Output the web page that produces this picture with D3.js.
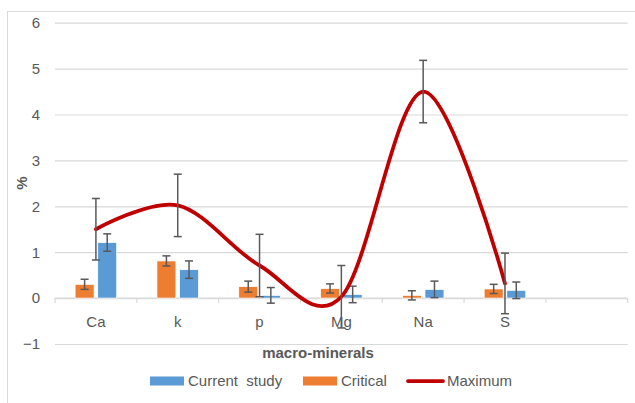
<!DOCTYPE html>
<html>
<head>
<meta charset="utf-8">
<script src="https://cdn.jsdelivr.net/npm/d3@7"></script>
<style>
    body { margin: 0; background: #fff; }
    text { font-family: "Liberation Sans", Arial, sans-serif; }
</style>
</head>
<body>
<svg id="chart" width="635" height="403"></svg>
<script>
// Data
// --------------------
var categories = ["Ca", "k", "p", "Mg", "Na", "S", ""];
var minerals = ["Ca", "k", "p", "Mg", "Na", "S"];
var critical = [0.30, 0.81, 0.25, 0.21, 0.06, 0.20];
var criticalErr = [0.11, 0.11, 0.12, 0.10, 0.10, 0.10];
var current = [1.21, 0.62, 0.06, 0.08, 0.19, 0.17];
var currentErr = [0.19, 0.19, 0.17, 0.18, 0.18, 0.18];
var maximum = [1.50, 2.02, 0.71, 0.03, 4.50, 0.32];
var maximumErr = [0.67, 0.68, 0.68, 0.68, 0.68, 0.66];
var yTicks = [-1, 0, 1, 2, 3, 4, 5, 6];

var colors = {
    critical: "#ED7D31",
    current: "#5B9BD5",
    maximum: "#C00000",
    err: "#595959",
    grid: "#D9D9D9",
    text: "#595959"
};
var fontSize = 15;

var svg = d3.select("#chart");

// Outer chart border
svg.append("rect")
    .attr("x", 7.5)
    .attr("y", 11.5)
    .attr("width", 640)
    .attr("height", 400)
    .style("fill", "none")
    .style("stroke", colors.grid);

// Scales
// --------------------
var plot = { left: 55, right: 627.7, top: 22.7, bottom: 344 };

var x = d3.scaleBand()
    .domain(categories)
    .range([plot.left, plot.right])
    .padding(0);

var y = d3.scaleLinear()
    .domain([-1, 6])
    .range([plot.bottom, plot.top]);

// bar offsets inside a category
var sub = d3.scaleBand()
    .domain(["critical", "current"])
    .range([-20.8, 20.8])
    .paddingInner(0.16);

// Gridlines + y labels
// --------------------
var yAxis = svg.append("g")
    .attr("transform", `translate(${plot.left}, 0)`)
    .call(d3.axisLeft(y)
        .tickValues(yTicks)
        .tickSize(-(plot.right - plot.left))
        .tickPadding(15)
        .tickFormat(d3.format("d")));
yAxis.select(".domain").remove();
yAxis.selectAll(".tick line")
    .style("stroke", colors.grid)
    .style("stroke-width", 1.2);
yAxis.selectAll(".tick text")
    .attr("font-size", fontSize)
    .style("fill", colors.text);

// Category axis on zero line
var xAxis = svg.append("g");
xAxis.append("line")
    .attr("x1", plot.left)
    .attr("x2", plot.right)
    .attr("y1", y(0))
    .attr("y2", y(0))
    .style("stroke", colors.grid)
    .style("stroke-width", 1.2);
xAxis.selectAll(".tk")
    .data(categories.concat(["end"]))
    .enter().append("line")
    .attr("x1", (d, i) => plot.left + i * x.step())
    .attr("x2", (d, i) => plot.left + i * x.step())
    .attr("y1", y(0))
    .attr("y2", y(0) + 5)
    .style("stroke", colors.grid)
    .style("stroke-width", 1.2);
xAxis.selectAll(".lbl")
    .data(categories)
    .enter().append("text")
    .text(d => d)
    .attr("x", d => x(d) + x.bandwidth() / 2)
    .attr("y", y(0) + 29)
    .attr("font-size", fontSize)
    .attr("text-anchor", "middle")
    .style("fill", colors.text);

// Bars
// --------------------
var series = [
    { key: "critical", values: critical, errs: criticalErr },
    { key: "current", values: current, errs: currentErr }
];

series.forEach(function (s) {
    var g = svg.append("g").attr("class", "bars-" + s.key);
    g.selectAll("rect")
        .data(minerals)
        .enter().append("rect")
        .attr("x", (d, i) => x(d) + x.bandwidth() / 2 + sub(s.key))
        .attr("width", sub.bandwidth())
        .attr("y", (d, i) => y(Math.max(0, s.values[i])))
        .attr("height", (d, i) => Math.abs(y(s.values[i]) - y(0)))
        .style("fill", colors[s.key])
        .style("stroke", "#fff")
        .style("stroke-width", 0.75);
});

// error bar helper
function errorBars(g, cx, vals, errs, cap) {
    var e = g.selectAll(".err")
        .data(minerals)
        .enter().append("g");
    e.append("line")
        .attr("x1", (d, i) => cx(d))
        .attr("x2", (d, i) => cx(d))
        .attr("y1", (d, i) => y(vals[i] + errs[i]))
        .attr("y2", (d, i) => y(vals[i] - errs[i]));
    [1, -1].forEach(function (sg) {
        e.append("line")
            .attr("x1", (d, i) => cx(d) - cap)
            .attr("x2", (d, i) => cx(d) + cap)
            .attr("y1", (d, i) => y(vals[i] + sg * errs[i]))
            .attr("y2", (d, i) => y(vals[i] + sg * errs[i]));
    });
    e.selectAll("line")
        .style("stroke", colors.err)
        .style("stroke-width", 1.5);
}

series.forEach(function (s) {
    errorBars(svg.append("g"),
        d => x(d) + x.bandwidth() / 2 + sub(s.key) + sub.bandwidth() / 2,
        s.values, s.errs, 4);
});

// Maximum line (smoothed)
// --------------------
var line = d3.line()
    .x((d, i) => x(minerals[i]) + x.bandwidth() / 2)
    .y(d => y(d))
    .curve(d3.curveCardinal.tension(0));

svg.append("path")
    .datum(maximum)
    .attr("d", line)
    .style("fill", "none")
    .style("stroke", colors.maximum)
    .style("stroke-width", 3.75)
    .style("stroke-linecap", "round");

errorBars(svg.append("g"), d => x(d) + x.bandwidth() / 2, maximum, maximumErr, 4);

// Axis titles
// --------------------
svg.append("text")
    .text("%")
    .attr("transform", `translate(27, 183) rotate(-90)`)
    .attr("font-size", fontSize)
    .attr("font-weight", "bold")
    .attr("text-anchor", "middle")
    .style("fill", colors.text);

svg.append("text")
    .text("macro-minerals")
    .attr("x", 318)
    .attr("y", 358)
    .attr("font-size", fontSize)
    .attr("font-weight", "bold")
    .attr("text-anchor", "middle")
    .style("fill", colors.text);

// Legend
// --------------------
var legendItems = [
    { name: "Current\u00a0 study", key: "current", type: "bar", x: 150 },
    { name: "Critical", key: "critical", type: "bar", x: 303 },
    { name: "Maximum", key: "maximum", type: "line", x: 407 }
];
var legend = svg.append("g").attr("id", "legend");
var item = legend.selectAll(".item")
    .data(legendItems)
    .enter().append("g")
    .attr("transform", d => `translate(${d.x}, 381)`);
item.filter(d => d.type === "bar").append("rect")
    .attr("x", 0)
    .attr("y", -4.5)
    .attr("width", 34)
    .attr("height", 9)
    .style("fill", d => colors[d.key]);
item.filter(d => d.type === "line").append("line")
    .attr("x1", 1)
    .attr("x2", 36)
    .attr("y1", 0)
    .attr("y2", 0)
    .style("stroke", d => colors[d.key])
    .style("stroke-width", 3.75)
    .style("stroke-linecap", "round");
item.append("text")
    .text(d => d.name)
    .attr("x", d => d.type === "bar" ? 38 : 40)
    .attr("y", 5)
    .attr("font-size", fontSize)
    .style("fill", colors.text);
</script>
</body>
</html>
